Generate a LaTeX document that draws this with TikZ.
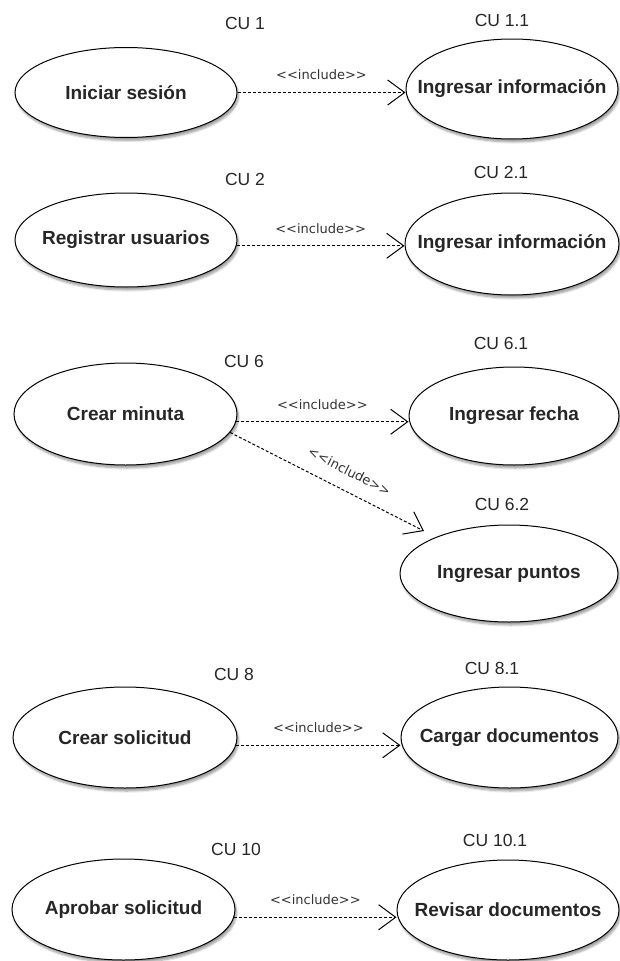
\documentclass[tikz,border=0pt]{standalone}
\usepackage{fontspec}
\setmainfont{Liberation Sans}
\newfontfamily\stereofont[Ligatures=TeXOff]{DejaVu Sans}
\usetikzlibrary{shapes.geometric,arrows.meta,shadows.blur}

\begin{document}
\begin{tikzpicture}[x=1pt,y=-1pt,
  usecase/.style={ellipse, draw=black, line width=1pt, fill=white, inner sep=0pt,
    blur shadow={shadow xshift=1.5pt, shadow yshift=-3pt, shadow blur steps=6, shadow opacity=40}},
  ucname/.style={font=\fontsize{19}{21}\selectfont\bfseries, text=black!85, inner sep=0pt},
  culabel/.style={font=\fontsize{17.5}{19}\selectfont, text=black!85, inner sep=0pt},
  incl/.style={-{Straight Barb[length=17pt,width=25pt,line width=1pt]},
    line width=1pt, dash pattern=on 3pt off 2pt},
  stereo/.style={font=\stereofont\fontsize{13}{14}\selectfont, text=black!80, inner sep=1pt},
]
\useasboundingbox (0,0) rectangle (619,961);

% use cases
\node[usecase, minimum width=222pt, minimum height=90pt,
      label={[ucname]center:Iniciar sesión}] (a1) at (126,92.5) {};
\node[usecase, minimum width=212pt, minimum height=100pt,
      label={[ucname]center:Ingresar información}] (b1) at (512,89) {};
\node[usecase, minimum width=222pt, minimum height=94pt,
      label={[ucname]center:Registrar usuarios}] (a2) at (126,240) {};
\node[usecase, minimum width=214pt, minimum height=102pt,
      label={[ucname]center:Ingresar información}] (b2) at (512,244) {};
\node[usecase, minimum width=223pt, minimum height=102pt,
      label={[ucname]center:Crear minuta}] (a3) at (125.5,414) {};
\node[usecase, minimum width=210pt, minimum height=98pt,
      label={[ucname]center:Ingresar fecha}] (b3) at (514,416) {};
\node[usecase, minimum width=218pt, minimum height=97pt,
      label={[ucname]center:Ingresar puntos}] (c3) at (509,573.5) {};
\node[usecase, minimum width=224pt, minimum height=101pt,
      label={[ucname]center:Crear solicitud}] (a4) at (125,737.5) {};
\node[usecase, minimum width=217pt, minimum height=101pt,
      label={[ucname]center:Cargar documentos}] (b4) at (509.5,737.5) {};
\node[usecase, minimum width=223pt, minimum height=101pt,
      label={[ucname]center:Aprobar solicitud}] (a5) at (123.5,909.5) {};
\node[usecase, minimum width=222pt, minimum height=100pt,
      label={[ucname]center:Revisar documentos}] (b5) at (508,910) {};

% identifiers
\node[culabel] (cu1)   at (245,23)    {CU 1};
\node[culabel] (cu11)  at (502,20)    {CU 1.1};
\node[culabel] (cu2)   at (245,179)   {CU 2};
\node[culabel] (cu21)  at (501,172.5) {CU 2.1};
\node[culabel] (cu6)   at (244,361)   {CU 6};
\node[culabel] (cu61)  at (501,343.5) {CU 6.1};
\node[culabel] (cu62)  at (502,504)   {CU 6.2};
\node[culabel] (cu8)   at (234,674)   {CU 8};
\node[culabel] (cu81)  at (492,668)   {CU 8.1};
\node[culabel] (cu10)  at (236,849)   {CU 10};
\node[culabel] (cu101) at (495,840)   {CU 10.1};

% include relations
\draw[incl] (a1.east) -- (a1.east -| b1.west)
  node[stereo, midway, above=11pt] {<<include>>};
\draw[incl] (a2.-3) -- (a2.-3 -| b2.west)
  node[stereo, midway, above=11pt] {<<include>>};
\draw[incl] (a3.-4) -- (a3.-4 -| b3.west)
  node[stereo, midway, above=11pt] {<<include>>};
\coordinate (c3tip) at (424,531);
\draw[incl] (a3.-10) -- (c3tip)
  node[stereo, pos=0.57, sloped, above=13pt] {<<include>>};
\draw[incl] (a4.-4.5) -- (a4.-4.5 -| b4.west)
  node[stereo, midway, above=11pt] {<<include>>};
\draw[incl] (a5.-4) -- (a5.-4 -| b5.west)
  node[stereo, midway, above=11pt] {<<include>>};
\end{tikzpicture}
\end{document}
